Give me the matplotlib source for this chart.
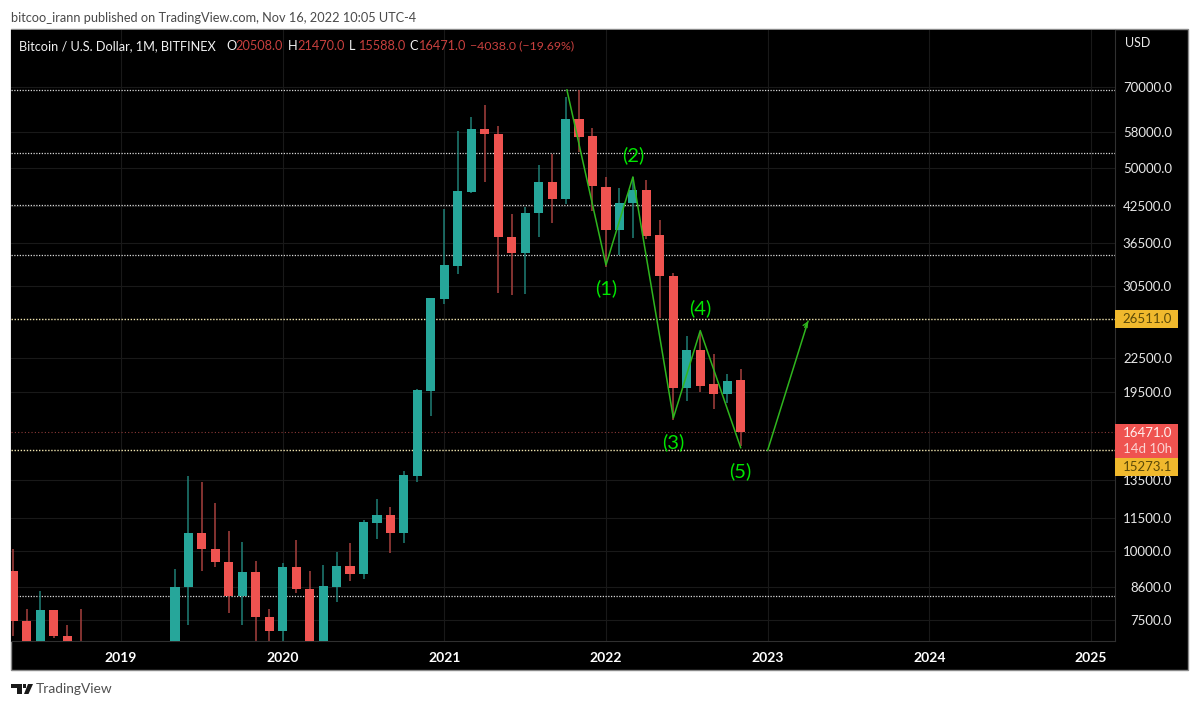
"""
Bitcoin monthly candle chart with a hand drawn wave count, TradingView look.
"""

import numpy as np
import matplotlib
matplotlib.use("Agg")
import matplotlib.pyplot as plt
from matplotlib.patches import Rectangle, Polygon

# Months counted from Jan 2019
first_month = -8
opens = [9210, 7470, 6390, 7810, 7010, 6630, 6370, 4000, 3700, 3450, 3850, 4100,
         5270, 8610, 10800, 10100, 9568, 8295, 9170, 7590, 7160, 9367, 8550, 6420,
         8600, 9420, 9090, 11270, 11650, 10800, 13720, 19600, 28800, 33150, 45200, 58800,
         57600, 37400, 34960, 41300, 47100, 43850, 61300, 57000, 46150, 38500, 43140, 45540,
         37700, 31750, 19850, 23270, 20150, 19350, 20508]
highs = [10100, 7840, 8470, 7810, 7350, 7840, 6600, 4400, 4100, 4200, 4130, 5640,
         9300, 13720, 13350, 12250, 10890, 10410, 9590, 7860, 9520, 10490, 9210, 9450,
         9980, 10360, 11400, 12460, 12040, 14000, 19800, 29000, 42000, 58330, 61850, 65050,
         59560, 41180, 42400, 50570, 52960, 67250, 69300, 59060, 48100, 45950, 48000, 47400,
         40150, 32100, 24680, 25100, 22880, 21050, 21470]
lows = [7000, 5800, 6100, 6950, 6500, 6200, 3600, 3150, 3350, 3400, 3700, 4100,
        5270, 7350, 9200, 9367, 7730, 7345, 6500, 6430, 6850, 8400, 3850, 6150,
        8090, 8830, 8890, 10530, 9930, 10360, 13400, 17650, 28200, 32000, 45000, 47100,
        29560, 29300, 29450, 37400, 39650, 43000, 53500, 41700, 32970, 34670, 37250, 37000,
        26620, 17350, 18800, 19500, 18170, 18600, 15588]
closes = [7470, 6390, 7810, 7010, 6630, 6370, 4000, 3700, 3450, 3850, 4100, 5270,
          8610, 10800, 10100, 9568, 8295, 9170, 7590, 7160, 9367, 8550, 6420, 8650,
          9420, 9090, 11310, 11650, 10800, 13780, 19680, 28950, 33250, 45350, 58800, 57600,
          37400, 34960, 41300, 47100, 43850, 61300, 56900, 46300, 38500, 43140, 45540, 37550,
          31750, 19850, 23270, 20000, 19350, 20440, 16471]

year_months = [0, 12, 24, 36, 48, 60, 72]
year_labels = ["2019", "2020", "2021", "2022", "2023", "2024", "2025"]
price_ticks = [70000, 58000, 50000, 42500, 36500, 30500, 22500, 19500,
               13500, 11500, 10000, 8600, 7500]
level_lines = [69300, 53100, 42750, 34650, 8295]
level_marked = [26511, 15273]
last_price = 16471

wave_months = [33.1, 36, 38, 41, 43, 46]
wave_prices = [69300, 33250, 48100, 17500, 25250, 15450]
target_months = [48, 51]
target_prices = [15273, 26250]
label_months = [36, 38, 41, 43, 46]
label_prices = [30190, 52740, 15820, 27760, 14000]
label_names = ["(1)", "(2)", "(3)", "(4)", "(5)"]

UP = "#26a69a"
DOWN = "#ef5350"
LIME = "#00e600"
LINE = "#2fb51e"
YELLOW = "#f0b92d"
W, H = 1200, 708

plt.rcParams["font.family"] = ["Lato", "DejaVu Sans"]


def fx(x):
    return x / W


def fy(y):
    return 1 - y / H


def px_text(fig, x, y, s, **kw):
    kw.setdefault("va", "center")
    return fig.text(fx(x), fy(y), s, **kw)


fig = plt.figure(figsize=(W / 100, H / 100), dpi=100, facecolor="white")

# Black chart frame behind everything
fig.add_artist(Rectangle((fx(11), fy(670)), 1177 / W, 641 / H, transform=fig.transFigure,
                         facecolor="black", edgecolor="#8a8a8a", linewidth=1, zorder=-1))

ax = fig.add_axes([fx(11), fy(641), 1104 / W, 611 / H], facecolor="black")
ax.set_yscale("log")
ax.set_xlim(-8.17, 73.79)
ax.set_ylim(6866, 89090)

# Faint grid
ax.set_xticks(year_months)
ax.set_xticklabels(year_labels, color="white", fontsize=10, fontweight="bold")
ax.set_yticks(price_ticks)
ax.set_yticklabels([f"{p:.1f}" for p in price_ticks], color="#e8e8e8", fontsize=9.5, ha="right")
ax.minorticks_off()
ax.yaxis.tick_right()
ax.tick_params(axis="y", length=0, pad=41)
ax.tick_params(axis="x", length=0, pad=8)
ax.grid(True, color="#191919", linewidth=0.8)
ax.set_axisbelow(True)
for side in ["top", "left"]:
    ax.spines[side].set_visible(False)
for side in ["right", "bottom"]:
    ax.spines[side].set_color("#303030")
    ax.spines[side].set_linewidth(0.8)

# Horizontal levels
for level in level_lines:
    ax.axhline(level, color="#d8d8d8", linestyle=(0, (1, 1.2)), linewidth=0.9, zorder=1)
for level in level_marked:
    ax.axhline(level, color="#f2e6b0", linestyle=(0, (1, 1.2)), linewidth=1.0, zorder=1)
ax.axhline(last_price, color="#8a3a38", linestyle=(0, (1, 2)), linewidth=0.8, zorder=1)

# Candles
months = first_month + np.arange(len(opens))
o = np.array(opens, dtype=float)
c = np.array(closes, dtype=float)
colors = [UP if b >= a else DOWN for a, b in zip(o, c)]
wick_colors = ["#1f7f76" if b >= a else "#a8403e" for a, b in zip(o, c)]
ax.vlines(months, lows, highs, colors=wick_colors, linewidth=1.1, zorder=2)
ax.bar(months, np.abs(c - o), bottom=np.minimum(o, c), width=0.68, color=colors,
       linewidth=0, zorder=3)

# Wave count
ax.plot(wave_months, wave_prices, color=LINE, linewidth=1.1, zorder=4)
ax.plot(target_months, target_prices, color=LINE, linewidth=1.1, zorder=4)
ax.annotate("", xy=(target_months[1], target_prices[1]),
            xytext=(target_months[1] - 0.25, target_prices[1] * 0.975),
            arrowprops=dict(arrowstyle="->", color=LINE, linewidth=1.0, mutation_scale=8,
                            shrinkA=0, shrinkB=0), zorder=4)
for m, p, name in zip(label_months, label_prices, label_names):
    ax.text(m, p, name, color=LIME, fontsize=14.5, ha="center", va="center", zorder=5)

# Price tags on the right axis
fig.add_artist(Rectangle((fx(1115), fy(328)), 63 / W, 18 / H, transform=fig.transFigure,
                         facecolor=YELLOW, edgecolor="none", zorder=2))
fig.add_artist(Rectangle((fx(1115), fy(458)), 63 / W, 34 / H, transform=fig.transFigure,
                         facecolor=DOWN, edgecolor="none", zorder=2))
fig.add_artist(Rectangle((fx(1115), fy(476)), 63 / W, 18 / H, transform=fig.transFigure,
                         facecolor=YELLOW, edgecolor="none", zorder=2))
px_text(fig, 1172, 319, "26511.0", color="#5c4a08", fontsize=9.5, ha="right")
px_text(fig, 1172, 433, "16471.0", color="#fff0ee", fontsize=9.5, ha="right")
px_text(fig, 1172, 449, "14d 10h", color="#fbd5d3", fontsize=9.5, ha="right")
px_text(fig, 1172, 467, "15273.1", color="#5c4a08", fontsize=9.5, ha="right")
px_text(fig, 1125, 43, "USD", color="#e8e8e8", fontsize=9)

# Header and legend
px_text(fig, 11, 18, "bitcoo_irann published on TradingView.com, Nov 16, 2022 10:05 UTC-4",
        color="#4a4a4a", fontsize=9.2)
px_text(fig, 19, 46, "Bitcoin / U.S. Dollar, 1M, BITFINEX", color="#f0f0f0", fontsize=9.2)
legend_parts = [(226, "O", "20508.0"), (288, "H", "21470.0"), (349, "L", "15588.0"), (409, "C", "16471.0")]
for x, key, value in legend_parts:
    px_text(fig, x, 46, key, color="#f0f0f0", fontsize=9.2)
    px_text(fig, x + 9, 46, value, color="#c8403e", fontsize=9.2)
px_text(fig, 470, 46, "\u22124038.0 (\u221219.69%)", color="#c8403e", fontsize=8.9)

# Logo and footer
for pts in [[(11, 684), (22, 684), (22, 694), (17, 694), (17, 688), (11, 688)],
            [(24, 694), (28, 684), (33, 684), (28.5, 694)]]:
    fig.add_artist(Polygon([(fx(x), fy(y)) for x, y in pts], closed=True,
                           transform=fig.transFigure, facecolor="#1a1a1a", edgecolor="none"))
fig.add_artist(Rectangle((fx(23), fy(688)), 3 / W, 4 / H, transform=fig.transFigure,
                         facecolor="#1a1a1a", edgecolor="none"))
px_text(fig, 36, 689, "TradingView", color="#4f4f4f", fontsize=9.9)

fig.savefig("out.png", dpi=100, facecolor="white")
